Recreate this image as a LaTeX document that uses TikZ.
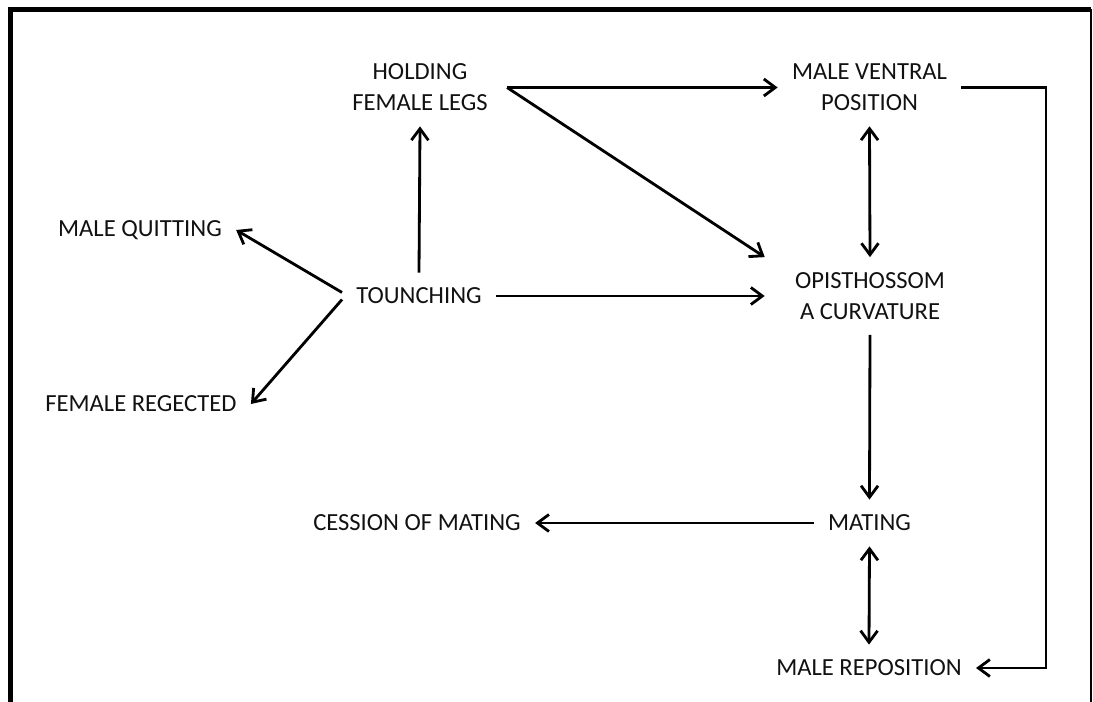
\documentclass[tikz,border=0pt]{standalone}
\usepackage{fontspec}
\setmainfont{Carlito}
\usepackage{tikz}
\usetikzlibrary{arrows.meta,positioning,calc}
\definecolor{ink}{HTML}{111111}
\tikzset{
  lbl/.style={font=\fontsize{14}{17.6}\selectfont,text=ink,align=center,
              inner xsep=0.28cm,inner ysep=0.3cm},
  arr/.style={-{Straight Barb[length=2.3mm,width=3.4mm]},line width=1.6pt},
  dblarr/.style={{Straight Barb[length=2.3mm,width=3.4mm]}-{Straight Barb[length=2.3mm,width=3.4mm]},
                 line width=1.6pt},
}
\begin{document}
\begin{tikzpicture}[x=0.02cm,y=-0.02cm]
  \useasboundingbox (0,0) rectangle (1093,702);
  % frame
  \draw[line width=0.1cm] (10.5,702) -- (10.5,9.5) -- (1091,9.5);
  \draw[line width=0.8pt] (1091,9.5) -- (1091,702);
  % stages
  \node[lbl,inner xsep=0.38cm](hold)at(420,87.5){HOLDING\\FEMALE LEGS};
  \node[lbl](mvp)at(869.5,87.5){MALE VENTRAL\\POSITION};
  \node[lbl](quit)at(140,230){MALE QUITTING};
  \node[lbl](touch)at(419,296){TOUNCHING};
  \node[lbl,inner xsep=0.6cm](opist)at(870,296){OPISTHOSSOM\\A CURVATURE};
  \node[lbl](rej)at(141,404){FEMALE REGECTED};
  \node[lbl](cess)at(417,523){CESSION OF MATING};
  \node[lbl](mating)at(869.5,523){MATING};
  \node[lbl](repos)at(869,668){MALE REPOSITION};
  \coordinate(rt)at(1046,87.5);
  % transitions
  \draw[arr](touch.north)--(hold.south);
  \draw[arr]([yshift=2pt]touch.west)--(quit.east);
  \draw[arr]([yshift=-2pt]touch.west)--(rej.east);
  \draw[arr](touch.east)--(opist.west);
  \draw[arr](hold.east)--(mvp.west);
  \draw[arr](hold.east)--(opist.north west);
  \draw[dblarr](mvp.south)--(opist.north);
  \draw[arr](opist.south)--(mating.north);
  \draw[arr](mating.west)--(cess.east);
  \draw[dblarr](mating.south)--(repos.north);
  \draw[arr](mvp.east)--(rt)|-(repos.east);
\end{tikzpicture}
\end{document}
